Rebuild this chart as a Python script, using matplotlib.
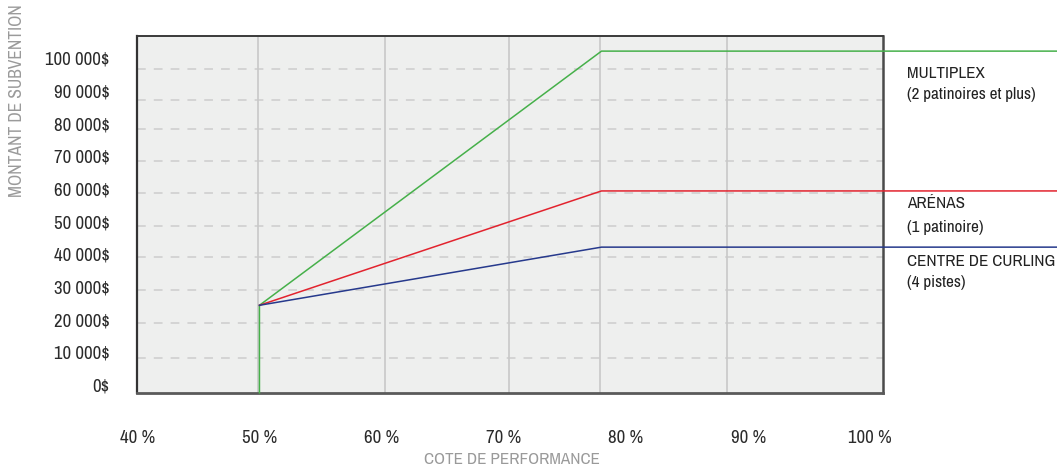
import matplotlib.pyplot as plt

plt.rcParams['font.family'] = ['Archivo Narrow', 'DejaVu Sans']
plt.rcParams['lines.scale_dashes'] = False

# Cote de performance (%) et montant de subvention ($)
x_pct = [50, 50, 78, 115.3]
multiplex = [-2400, 24400, 102200, 102200]
arenas = [24400, 59400, 59400]
curling = [24400, 42200, 42200]

series = [
    (x_pct, multiplex, '#46b04a'),
    (x_pct[1:], arenas, '#e2232e'),
    (x_pct[1:], curling, '#26398c'),
]

x_ticks = [40, 50, 60, 70, 80, 90, 100]
y_ticks = [0, 10000, 20000, 30000, 40000, 50000, 60000, 70000, 80000, 90000, 100000]
x_grid = [49.85, 60.3, 70.4, 77.9, 88.3]
y_grid = [8260, 18890, 29080, 39270, 48760, 58860, 68660, 78360, 87330, 96730]

labels = [
    ('MULTIPLEX', 73), ('(2 patinoires et plus)', 94),
    ('ARÉNAS', 203), ('(1 patinoire)', 227),
    ('CENTRE DE CURLING', 261), ('(4 pistes)', 282),
]


def money(v):
    s = f'{int(v):,}'.replace(',', ' ')
    return s + '$'


fig = plt.figure(figsize=(10.57, 4.68), dpi=100)
ax = fig.add_axes([137.3 / 1057, 1 - 392.7 / 468, 746 / 1057, 357 / 468])
ax.set_facecolor('#eeefee')
ax.set_xlim(40, 101.07)
ax.set_ylim(-2357, 106920)

# grille
for gy in y_grid:
    ax.axhline(gy, color='#d2d2d2', lw=1.3, linestyle=(0, (6.3, 5.8)), zorder=1)
for gx in x_grid:
    ax.axvline(gx, color='#c8c8c8', lw=1.2, zorder=1)

for xs, ys, c in series:
    ax.plot(xs, ys, color=c, lw=1.1, clip_on=False, zorder=3)

ax.set_xticks(x_ticks)
ax.set_xticklabels([f'{t} %' for t in x_ticks])
ax.set_yticks(y_ticks)
ax.set_yticklabels([money(v) for v in y_ticks])
ax.tick_params(axis='both', length=0, labelsize=13.5, colors='#2b2b2b')
ax.tick_params(axis='y', pad=20)
ax.tick_params(axis='x', pad=27)

ax.spines['left'].set_color('#333333')
ax.spines['left'].set_linewidth(1.6)
ax.spines['top'].set_color('#3a3a3a')
ax.spines['top'].set_linewidth(1.4)
ax.spines['right'].set_color('#4a4a4a')
ax.spines['right'].set_linewidth(1.8)
ax.spines['bottom'].set_color('#5a5a5a')
ax.spines['bottom'].set_linewidth(2)

for txt, py in labels:
    fig.text(907 / 1057, 1 - py / 468, txt, ha='left', va='center',
             fontsize=12.3, color='#222222')

fig.text(17 / 1057, 1 - 101 / 468, 'MONTANT DE SUBVENTION', rotation=90,
         ha='center', va='center', fontsize=12.6, color='#9a9a9a')
fig.text(512 / 1057, 1 - 460 / 468, 'COTE DE PERFORMANCE',
         ha='center', va='center', fontsize=12.3, color='#9a9a9a')

fig.savefig('out.png', dpi=100)
